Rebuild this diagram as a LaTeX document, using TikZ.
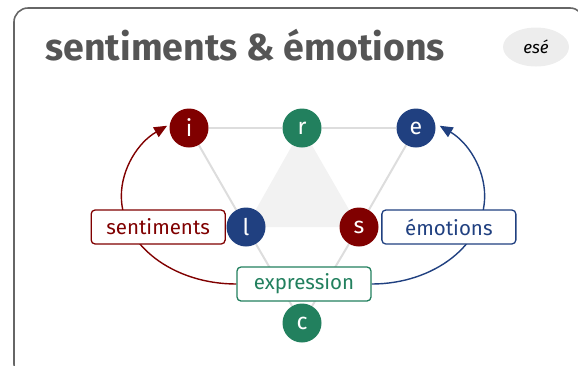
\documentclass[tikz,border=0pt]{standalone}
\usepackage{fontspec}
\setmainfont{Fira Sans}
\usetikzlibrary{positioning,arrows.meta,backgrounds,shapes.geometric}
\definecolor{rouge}{RGB}{128,0,0}
\definecolor{vert}{RGB}{34,128,94}
\definecolor{bleu}{RGB}{32,64,128}
\definecolor{trait}{RGB}{221,221,221}
\definecolor{titre}{RGB}{85,85,85}
\definecolor{cadre}{RGB}{102,102,102}
\definecolor{fond}{RGB}{242,242,242}

\begin{document}
\begin{tikzpicture}[
  x=1pt, y=1pt,
  pole/.style={circle, minimum size=39pt, inner sep=0pt, text=white, font=\fontsize{23}{25}\selectfont},
  lbl/.style={draw, fill=white, rounded corners=4pt, line width=1.3pt, align=center,
    minimum width=134pt, minimum height=34pt, inner sep=0pt, font=\fontsize{20.5}{22}\selectfont},
  link/.style={draw=trait, line width=2pt},
  boucle/.style={-{Triangle[length=13pt, width=11pt]}, line width=1.4pt}]
\useasboundingbox (0,0) rectangle (578,-365);
\begin{scope}
\clip (0,0) rectangle (578,-365);
\draw[cadre, line width=1.6pt, rounded corners=14pt] (14,-8) rectangle (584,-378);
\end{scope}
\node[anchor=base west, text=titre, font=\fontsize{37.5}{40}\selectfont\bfseries] (heading) at (42,-60) {sentiments \& émotions};
\node[ellipse, fill=black!7, minimum width=66pt, minimum height=39pt, inner sep=0pt,
      font=\fontsize{17}{18}\selectfont\itshape] (badge) at (536,-47) {esé};
% poles
\node[pole, fill=rouge] (i) at (189,-128) {i};
\node[pole, fill=vert] (r) at (302,-128) {r};
\node[pole, fill=bleu] (e) at (416,-128) {e};
\node[pole, fill=bleu] (l) at (246,-227) {l};
\node[pole, fill=rouge] (s) at (359,-227) {s};
\node[pole, fill=vert] (c) at (302,-323) {c};
% labels
\node[lbl, draw=rouge, text=rouge, left=0.5pt of l] (sent) {sentiments};
\node[lbl, draw=bleu, text=bleu, right=2.5pt of s] (emo) {émotions};
\node[lbl, draw=vert, text=vert] (expr) at (304,-284) {expression};
\begin{scope}[on background layer]
\fill[fond] (r.center) -- (l.center) -- (s.center) -- cycle;
\draw[link] (i) -- (r) -- (e);
\draw[link] (i) -- (l) -- (c) -- (s) -- (e);
\draw[boucle, rouge] (expr.west) arc[start angle=270, end angle=127, x radius=115, y radius=88];
\draw[boucle, bleu] (expr.east) arc[start angle=-90, end angle=53, x radius=113, y radius=88];
\end{scope}
\end{tikzpicture}
\end{document}
